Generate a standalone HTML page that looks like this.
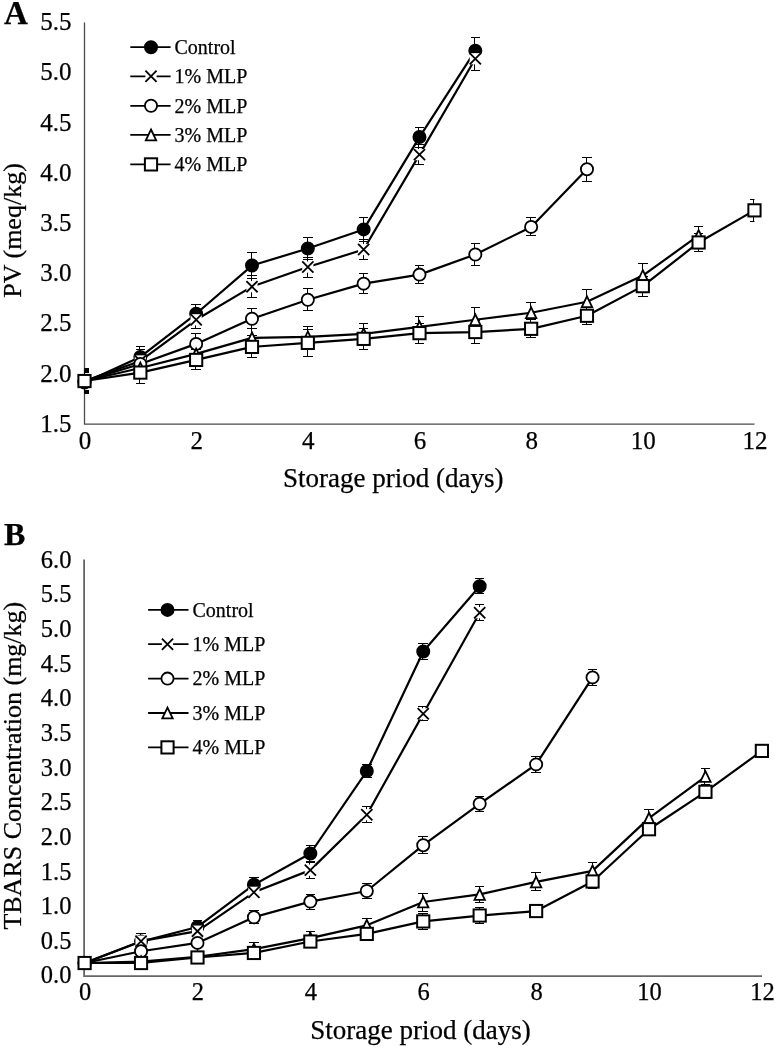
<!DOCTYPE html>
<html><head><meta charset="utf-8"><title>PV and TBARS charts</title>
<style>
html,body{margin:0;padding:0;background:#fff;}
body{width:774px;height:1046px;overflow:hidden;}
svg{display:block;font-family:"Liberation Serif", serif;will-change:transform;}
text{stroke:#000;stroke-width:0.25px;}
</style></head>
<body>
<svg width="774" height="1046" viewBox="0 0 774 1046">
<rect width="774" height="1046" fill="#fff"/>
<text x="71.6" y="431.85" font-size="25" text-anchor="end">1.5</text>
<text x="71.6" y="381.65" font-size="25" text-anchor="end">2.0</text>
<text x="71.6" y="331.45" font-size="25" text-anchor="end">2.5</text>
<text x="71.6" y="281.25" font-size="25" text-anchor="end">3.0</text>
<text x="71.6" y="231.05" font-size="25" text-anchor="end">3.5</text>
<text x="71.6" y="180.85" font-size="25" text-anchor="end">4.0</text>
<text x="71.6" y="130.65" font-size="25" text-anchor="end">4.5</text>
<text x="71.6" y="80.45" font-size="25" text-anchor="end">5.0</text>
<text x="71.6" y="30.25" font-size="25" text-anchor="end">5.5</text>
<text x="85" y="448.6" font-size="25" text-anchor="middle">0</text>
<text x="196.66" y="448.6" font-size="25" text-anchor="middle">2</text>
<text x="308.32" y="448.6" font-size="25" text-anchor="middle">4</text>
<text x="419.98" y="448.6" font-size="25" text-anchor="middle">6</text>
<text x="531.64" y="448.6" font-size="25" text-anchor="middle">8</text>
<text x="643.3" y="448.6" font-size="25" text-anchor="middle">10</text>
<text x="754.96" y="448.6" font-size="25" text-anchor="middle">12</text>
<path d="M84.5 22.6V424.2H754.5" fill="none" stroke="#4a4a4a" stroke-width="1.3"/>
<clipPath id="c845"><rect x="84.5" y="0" width="670" height="1046"/></clipPath>
<path clip-path="url(#c845)" d="M84.5 372.5V392.5M80 372.5H89M80 392.5H89M139.5 346.5V367.5M136 346.5H145M136 367.5H145M195.5 304.5V322.5M191 304.5H201M191 322.5H201M251.5 252.5V278.5M247 252.5H257M247 278.5H257M307.5 237.5V259.5M303 237.5H313M303 259.5H313M363.5 217.5V241.5M359 217.5H368M359 241.5H368M418.5 127.5V147.5M415 127.5H424M415 147.5H424M474.5 37.5V63.5M471 37.5H480M471 63.5H480M84.5 368.5V393.5M80 368.5H89M80 393.5H89M139.5 349.5V372.5M136 349.5H145M136 372.5H145M195.5 310.5V328.5M191 310.5H201M191 328.5H201M251.5 275.5V297.5M247 275.5H257M247 297.5H257M307.5 257.5V277.5M303 257.5H313M303 277.5H313M363.5 239.5V259.5M359 239.5H368M359 259.5H368M418.5 144.5V164.5M415 144.5H424M415 164.5H424M474.5 46.5V70.5M471 46.5H480M471 70.5H480M84.5 371.5V390.5M80 371.5H89M80 390.5H89M139.5 354.5V372.5M136 354.5H145M136 372.5H145M195.5 333.5V353.5M191 333.5H201M191 353.5H201M251.5 308.5V328.5M247 308.5H257M247 328.5H257M307.5 288.5V310.5M303 288.5H313M303 310.5H313M363.5 273.5V293.5M359 273.5H368M359 293.5H368M418.5 265.5V283.5M415 265.5H424M415 283.5H424M474.5 243.5V265.5M471 243.5H480M471 265.5H480M530.5 217.5V235.5M526 217.5H536M526 235.5H536M586.5 157.5V181.5M582 157.5H592M582 181.5H592M84.5 370.5V391.5M80 370.5H89M80 391.5H89M139.5 359.5V376.5M136 359.5H145M136 376.5H145M195.5 344.5V362.5M191 344.5H201M191 362.5H201M251.5 328.5V346.5M247 328.5H257M247 346.5H257M307.5 326.5V346.5M303 326.5H313M303 346.5H313M363.5 323.5V343.5M359 323.5H368M359 343.5H368M418.5 316.5V336.5M415 316.5H424M415 336.5H424M474.5 307.5V331.5M471 307.5H480M471 331.5H480M530.5 302.5V322.5M526 302.5H536M526 322.5H536M586.5 289.5V313.5M582 289.5H592M582 313.5H592M642.5 263.5V287.5M638 263.5H648M638 287.5H648M698.5 226.5V244.5M694 226.5H703M694 244.5H703M84.5 369.5V392.5M80 369.5H89M80 392.5H89M139.5 361.5V383.5M136 361.5H145M136 383.5H145M195.5 349.5V369.5M191 349.5H201M191 369.5H201M251.5 335.5V357.5M247 335.5H257M247 357.5H257M307.5 329.5V356.5M303 329.5H313M303 356.5H313M363.5 328.5V349.5M359 328.5H368M359 349.5H368M418.5 323.5V343.5M415 323.5H424M415 343.5H424M474.5 320.5V343.5M471 320.5H480M471 343.5H480M530.5 319.5V337.5M526 319.5H536M526 337.5H536M586.5 306.5V324.5M582 306.5H592M582 324.5H592M642.5 276.5V296.5M638 276.5H648M638 296.5H648M698.5 233.5V251.5M694 233.5H703M694 251.5H703M753.5 199.5V221.5M750 199.5H759M750 221.5H759" stroke="#000" stroke-width="1.0" fill="none"/>
<path d="M84.5 382.53L140.33 356.93L196.16 313.76L251.99 265.57L307.82 248.5L363.65 229.42L419.48 137.06L475.31 50.71" stroke="#000" stroke-width="2.2" fill="none" stroke-linejoin="round"/>
<circle cx="84.5" cy="382.53" r="6.1" fill="#000" stroke="#000" stroke-width="1.8"/>
<circle cx="140.33" cy="356.93" r="6.1" fill="#000" stroke="#000" stroke-width="1.8"/>
<circle cx="196.16" cy="313.76" r="6.1" fill="#000" stroke="#000" stroke-width="1.8"/>
<circle cx="251.99" cy="265.57" r="6.1" fill="#000" stroke="#000" stroke-width="1.8"/>
<circle cx="307.82" cy="248.5" r="6.1" fill="#000" stroke="#000" stroke-width="1.8"/>
<circle cx="363.65" cy="229.42" r="6.1" fill="#000" stroke="#000" stroke-width="1.8"/>
<circle cx="419.48" cy="137.06" r="6.1" fill="#000" stroke="#000" stroke-width="1.8"/>
<circle cx="475.31" cy="50.71" r="6.1" fill="#000" stroke="#000" stroke-width="1.8"/>
<path d="M84.5 381.03L140.33 360.95L196.16 319.78L251.99 286.65L307.82 267.07L363.65 249.5L419.48 154.63L475.31 58.74" stroke="#000" stroke-width="2.2" fill="none" stroke-linejoin="round"/>
<rect x="78.9" y="375.43" width="11.2" height="11.2" fill="#fff"/><path d="M78.9 375.43L90.1 386.63M90.1 375.43L78.9 386.63" stroke="#000" stroke-width="1.8" fill="none"/>
<rect x="134.73" y="355.35" width="11.2" height="11.2" fill="#fff"/><path d="M134.73 355.35L145.93 366.55M145.93 355.35L134.73 366.55" stroke="#000" stroke-width="1.8" fill="none"/>
<rect x="190.56" y="314.18" width="11.2" height="11.2" fill="#fff"/><path d="M190.56 314.18L201.76 325.38M201.76 314.18L190.56 325.38" stroke="#000" stroke-width="1.8" fill="none"/>
<rect x="246.39" y="281.05" width="11.2" height="11.2" fill="#fff"/><path d="M246.39 281.05L257.59 292.25M257.59 281.05L246.39 292.25" stroke="#000" stroke-width="1.8" fill="none"/>
<rect x="302.22" y="261.47" width="11.2" height="11.2" fill="#fff"/><path d="M302.22 261.47L313.42 272.67M313.42 261.47L302.22 272.67" stroke="#000" stroke-width="1.8" fill="none"/>
<rect x="358.05" y="243.9" width="11.2" height="11.2" fill="#fff"/><path d="M358.05 243.9L369.25 255.1M369.25 243.9L358.05 255.1" stroke="#000" stroke-width="1.8" fill="none"/>
<rect x="413.88" y="149.03" width="11.2" height="11.2" fill="#fff"/><path d="M413.88 149.03L425.08 160.23M425.08 149.03L413.88 160.23" stroke="#000" stroke-width="1.8" fill="none"/>
<rect x="469.71" y="53.14" width="11.2" height="11.2" fill="#fff"/><path d="M469.71 53.14L480.91 64.34M480.91 53.14L469.71 64.34" stroke="#000" stroke-width="1.8" fill="none"/>
<path d="M84.5 381.03L140.33 363.96L196.16 343.88L251.99 318.78L307.82 299.7L363.65 283.64L419.48 274.6L475.31 254.52L531.14 226.91L586.97 169.18" stroke="#000" stroke-width="2.2" fill="none" stroke-linejoin="round"/>
<circle cx="84.5" cy="381.03" r="6.1" fill="#fff" stroke="#000" stroke-width="1.8"/>
<circle cx="140.33" cy="363.96" r="6.1" fill="#fff" stroke="#000" stroke-width="1.8"/>
<circle cx="196.16" cy="343.88" r="6.1" fill="#fff" stroke="#000" stroke-width="1.8"/>
<circle cx="251.99" cy="318.78" r="6.1" fill="#fff" stroke="#000" stroke-width="1.8"/>
<circle cx="307.82" cy="299.7" r="6.1" fill="#fff" stroke="#000" stroke-width="1.8"/>
<circle cx="363.65" cy="283.64" r="6.1" fill="#fff" stroke="#000" stroke-width="1.8"/>
<circle cx="419.48" cy="274.6" r="6.1" fill="#fff" stroke="#000" stroke-width="1.8"/>
<circle cx="475.31" cy="254.52" r="6.1" fill="#fff" stroke="#000" stroke-width="1.8"/>
<circle cx="531.14" cy="226.91" r="6.1" fill="#fff" stroke="#000" stroke-width="1.8"/>
<circle cx="586.97" cy="169.18" r="6.1" fill="#fff" stroke="#000" stroke-width="1.8"/>
<path d="M84.5 381.03L140.33 367.98L196.16 353.92L251.99 337.86L307.82 336.85L363.65 333.84L419.48 326.81L475.31 319.78L531.14 312.76L586.97 301.71L642.8 275.61L698.63 235.45" stroke="#000" stroke-width="2.2" fill="none" stroke-linejoin="round"/>
<path d="M84.5 375.63L89.7 386.43L79.3 386.43Z" fill="#fff" stroke="#000" stroke-width="1.8" stroke-linejoin="miter" stroke-miterlimit="10"/>
<path d="M140.33 362.58L145.53 373.38L135.13 373.38Z" fill="#fff" stroke="#000" stroke-width="1.8" stroke-linejoin="miter" stroke-miterlimit="10"/>
<path d="M196.16 348.52L201.36 359.32L190.96 359.32Z" fill="#fff" stroke="#000" stroke-width="1.8" stroke-linejoin="miter" stroke-miterlimit="10"/>
<path d="M251.99 332.46L257.19 343.26L246.79 343.26Z" fill="#fff" stroke="#000" stroke-width="1.8" stroke-linejoin="miter" stroke-miterlimit="10"/>
<path d="M307.82 331.45L313.02 342.25L302.62 342.25Z" fill="#fff" stroke="#000" stroke-width="1.8" stroke-linejoin="miter" stroke-miterlimit="10"/>
<path d="M363.65 328.44L368.85 339.24L358.45 339.24Z" fill="#fff" stroke="#000" stroke-width="1.8" stroke-linejoin="miter" stroke-miterlimit="10"/>
<path d="M419.48 321.41L424.68 332.21L414.28 332.21Z" fill="#fff" stroke="#000" stroke-width="1.8" stroke-linejoin="miter" stroke-miterlimit="10"/>
<path d="M475.31 314.38L480.51 325.18L470.11 325.18Z" fill="#fff" stroke="#000" stroke-width="1.8" stroke-linejoin="miter" stroke-miterlimit="10"/>
<path d="M531.14 307.36L536.34 318.16L525.94 318.16Z" fill="#fff" stroke="#000" stroke-width="1.8" stroke-linejoin="miter" stroke-miterlimit="10"/>
<path d="M586.97 296.31L592.17 307.11L581.77 307.11Z" fill="#fff" stroke="#000" stroke-width="1.8" stroke-linejoin="miter" stroke-miterlimit="10"/>
<path d="M642.8 270.21L648 281.01L637.6 281.01Z" fill="#fff" stroke="#000" stroke-width="1.8" stroke-linejoin="miter" stroke-miterlimit="10"/>
<path d="M698.63 230.05L703.83 240.85L693.43 240.85Z" fill="#fff" stroke="#000" stroke-width="1.8" stroke-linejoin="miter" stroke-miterlimit="10"/>
<path d="M84.5 381.03L140.33 372.59L196.16 359.94L251.99 346.89L307.82 342.88L363.65 338.86L419.48 333.14L475.31 332.03L531.14 328.82L586.97 315.77L642.8 286.15L698.63 242.48L754.46 210.35" stroke="#000" stroke-width="2.2" fill="none" stroke-linejoin="round"/>
<rect x="78.4" y="374.93" width="12.2" height="12.2" fill="#fff" stroke="#000" stroke-width="2"/>
<rect x="134.23" y="366.49" width="12.2" height="12.2" fill="#fff" stroke="#000" stroke-width="2"/>
<rect x="190.06" y="353.84" width="12.2" height="12.2" fill="#fff" stroke="#000" stroke-width="2"/>
<rect x="245.89" y="340.79" width="12.2" height="12.2" fill="#fff" stroke="#000" stroke-width="2"/>
<rect x="301.72" y="336.78" width="12.2" height="12.2" fill="#fff" stroke="#000" stroke-width="2"/>
<rect x="357.55" y="332.76" width="12.2" height="12.2" fill="#fff" stroke="#000" stroke-width="2"/>
<rect x="413.38" y="327.04" width="12.2" height="12.2" fill="#fff" stroke="#000" stroke-width="2"/>
<rect x="469.21" y="325.93" width="12.2" height="12.2" fill="#fff" stroke="#000" stroke-width="2"/>
<rect x="525.04" y="322.72" width="12.2" height="12.2" fill="#fff" stroke="#000" stroke-width="2"/>
<rect x="580.87" y="309.67" width="12.2" height="12.2" fill="#fff" stroke="#000" stroke-width="2"/>
<rect x="636.7" y="280.05" width="12.2" height="12.2" fill="#fff" stroke="#000" stroke-width="2"/>
<rect x="692.53" y="236.38" width="12.2" height="12.2" fill="#fff" stroke="#000" stroke-width="2"/>
<rect x="748.36" y="204.25" width="12.2" height="12.2" fill="#fff" stroke="#000" stroke-width="2"/>
<path d="M130.3 47.2H170.6" stroke="#000" stroke-width="1.8"/>
<circle cx="151" cy="47.2" r="6.1" fill="#000" stroke="#000" stroke-width="1.8"/>
<text x="174.5" y="54" font-size="20">Control</text>
<path d="M130.3 76.3H170.6" stroke="#000" stroke-width="1.8"/>
<rect x="145.4" y="70.7" width="11.2" height="11.2" fill="#fff"/><path d="M145.4 70.7L156.6 81.9M156.6 70.7L145.4 81.9" stroke="#000" stroke-width="1.8" fill="none"/>
<text x="174.5" y="83.1" font-size="20">1% MLP</text>
<path d="M130.3 105.8H170.6" stroke="#000" stroke-width="1.8"/>
<circle cx="151" cy="105.8" r="6.1" fill="#fff" stroke="#000" stroke-width="1.8"/>
<text x="174.5" y="112.6" font-size="20">2% MLP</text>
<path d="M130.3 134.9H170.6" stroke="#000" stroke-width="1.8"/>
<path d="M151 129.5L156.2 140.3L145.8 140.3Z" fill="#fff" stroke="#000" stroke-width="1.8" stroke-linejoin="miter" stroke-miterlimit="10"/>
<text x="174.5" y="141.7" font-size="20">3% MLP</text>
<path d="M130.3 164.4H170.6" stroke="#000" stroke-width="1.8"/>
<rect x="144.9" y="158.3" width="12.2" height="12.2" fill="#fff" stroke="#000" stroke-width="2"/>
<text x="174.5" y="171.2" font-size="20">4% MLP</text>
<text x="4" y="23.7" font-size="33" font-weight="bold">A</text>
<text transform="translate(21.0 230.5) rotate(-90)" font-size="26" text-anchor="middle">PV (meq/kg)</text>
<text x="393.3" y="486.8" font-size="27" text-anchor="middle">Storage priod (days)</text>
<text x="71.4" y="983.48" font-size="24.5" text-anchor="end">0.0</text>
<text x="71.4" y="948.82" font-size="24.5" text-anchor="end">0.5</text>
<text x="71.4" y="914.16" font-size="24.5" text-anchor="end">1.0</text>
<text x="71.4" y="879.5" font-size="24.5" text-anchor="end">1.5</text>
<text x="71.4" y="844.84" font-size="24.5" text-anchor="end">2.0</text>
<text x="71.4" y="810.18" font-size="24.5" text-anchor="end">2.5</text>
<text x="71.4" y="775.52" font-size="24.5" text-anchor="end">3.0</text>
<text x="71.4" y="740.86" font-size="24.5" text-anchor="end">3.5</text>
<text x="71.4" y="706.2" font-size="24.5" text-anchor="end">4.0</text>
<text x="71.4" y="671.54" font-size="24.5" text-anchor="end">4.5</text>
<text x="71.4" y="636.88" font-size="24.5" text-anchor="end">5.0</text>
<text x="71.4" y="602.22" font-size="24.5" text-anchor="end">5.5</text>
<text x="71.4" y="567.56" font-size="24.5" text-anchor="end">6.0</text>
<text x="85.1" y="999.6" font-size="24.5" text-anchor="middle">0</text>
<text x="197.98" y="999.6" font-size="24.5" text-anchor="middle">2</text>
<text x="310.86" y="999.6" font-size="24.5" text-anchor="middle">4</text>
<text x="423.74" y="999.6" font-size="24.5" text-anchor="middle">6</text>
<text x="536.62" y="999.6" font-size="24.5" text-anchor="middle">8</text>
<text x="649.5" y="999.6" font-size="24.5" text-anchor="middle">10</text>
<text x="762.38" y="999.6" font-size="24.5" text-anchor="middle">12</text>
<path d="M84.1 559.6V976.1H762" fill="none" stroke="#666" stroke-width="1.8"/>
<clipPath id="c846"><rect x="84.1" y="0" width="677.9" height="1046"/></clipPath>
<path clip-path="url(#c846)" d="M84.5 957.5V968.5M80 957.5H89M80 968.5H89M140.5 933.5V949.5M136 933.5H146M136 949.5H146M196.5 920.5V933.5M193 920.5H202M193 933.5H202M253.5 877.5V892.5M249 877.5H259M249 892.5H259M309.5 845.5V861.5M306 845.5H315M306 861.5H315M366.5 764.5V777.5M362 764.5H372M362 777.5H372M422.5 643.5V659.5M418 643.5H428M418 659.5H428M479.5 578.5V593.5M475 578.5H484M475 593.5H484M84.5 957.5V968.5M80 957.5H89M80 968.5H89M140.5 933.5V948.5M136 933.5H146M136 948.5H146M196.5 926.5V935.5M193 926.5H202M193 935.5H202M253.5 886.5V897.5M249 886.5H259M249 897.5H259M309.5 862.5V878.5M306 862.5H315M306 878.5H315M366.5 806.5V822.5M362 806.5H372M362 822.5H372M422.5 706.5V720.5M418 706.5H428M418 720.5H428M479.5 604.5V620.5M475 604.5H484M475 620.5H484M84.5 957.5V968.5M80 957.5H89M80 968.5H89M140.5 947.5V955.5M136 947.5H146M136 955.5H146M196.5 938.5V947.5M193 938.5H202M193 947.5H202M253.5 910.5V923.5M249 910.5H259M249 923.5H259M309.5 894.5V909.5M306 894.5H315M306 909.5H315M366.5 883.5V898.5M362 883.5H372M362 898.5H372M422.5 836.5V853.5M418 836.5H428M418 853.5H428M479.5 796.5V811.5M475 796.5H484M475 811.5H484M535.5 756.5V772.5M531 756.5H541M531 772.5H541M592.5 669.5V685.5M588 669.5H597M588 685.5H597M84.5 957.5V968.5M80 957.5H89M80 968.5H89M140.5 957.5V965.5M136 957.5H146M136 965.5H146M196.5 952.5V960.5M193 952.5H202M193 960.5H202M253.5 942.5V956.5M249 942.5H259M249 956.5H259M309.5 931.5V944.5M306 931.5H315M306 944.5H315M366.5 918.5V932.5M362 918.5H372M362 932.5H372M422.5 893.5V911.5M418 893.5H428M418 911.5H428M479.5 886.5V902.5M475 886.5H484M475 902.5H484M535.5 872.5V890.5M531 872.5H541M531 890.5H541M592.5 862.5V879.5M588 862.5H597M588 879.5H597M648.5 809.5V827.5M644 809.5H654M644 827.5H654M704.5 768.5V784.5M701 768.5H710M701 784.5H710M84.5 957.5V968.5M80 957.5H89M80 968.5H89M140.5 958.5V967.5M136 958.5H146M136 967.5H146M196.5 954.5V960.5M193 954.5H202M193 960.5H202M253.5 948.5V957.5M249 948.5H259M249 957.5H259M309.5 936.5V946.5M306 936.5H315M306 946.5H315M366.5 929.5V938.5M362 929.5H372M362 938.5H372M422.5 913.5V929.5M418 913.5H428M418 929.5H428M479.5 907.5V923.5M475 907.5H484M475 923.5H484M535.5 906.5V915.5M531 906.5H541M531 915.5H541M592.5 874.5V888.5M588 874.5H597M588 888.5H597M648.5 822.5V835.5M644 822.5H654M644 835.5H654M704.5 784.5V798.5M701 784.5H710M701 798.5H710M761.5 744.5V757.5M757 744.5H767M757 757.5H767" stroke="#000" stroke-width="1.0" fill="none"/>
<path d="M84.6 963.02L141.04 941.53L197.48 926.98L253.92 884.69L310.36 853.5L366.8 771.01L423.24 651.43L479.68 586.2" stroke="#000" stroke-width="2.2" fill="none" stroke-linejoin="round"/>
<circle cx="84.6" cy="963.02" r="6.1" fill="#000" stroke="#000" stroke-width="1.8"/>
<circle cx="141.04" cy="941.53" r="6.1" fill="#000" stroke="#000" stroke-width="1.8"/>
<circle cx="197.48" cy="926.98" r="6.1" fill="#000" stroke="#000" stroke-width="1.8"/>
<circle cx="253.92" cy="884.69" r="6.1" fill="#000" stroke="#000" stroke-width="1.8"/>
<circle cx="310.36" cy="853.5" r="6.1" fill="#000" stroke="#000" stroke-width="1.8"/>
<circle cx="366.8" cy="771.01" r="6.1" fill="#000" stroke="#000" stroke-width="1.8"/>
<circle cx="423.24" cy="651.43" r="6.1" fill="#000" stroke="#000" stroke-width="1.8"/>
<circle cx="479.68" cy="586.2" r="6.1" fill="#000" stroke="#000" stroke-width="1.8"/>
<path d="M84.6 963.02L141.04 941.19L197.48 931.14L253.92 892.32L310.36 870.13L366.8 814.68L423.24 713.82L479.68 612.68" stroke="#000" stroke-width="2.2" fill="none" stroke-linejoin="round"/>
<rect x="79" y="957.42" width="11.2" height="11.2" fill="#fff"/><path d="M79 957.42L90.2 968.62M90.2 957.42L79 968.62" stroke="#000" stroke-width="1.8" fill="none"/>
<rect x="135.44" y="935.59" width="11.2" height="11.2" fill="#fff"/><path d="M135.44 935.59L146.64 946.79M146.64 935.59L135.44 946.79" stroke="#000" stroke-width="1.8" fill="none"/>
<rect x="191.88" y="925.54" width="11.2" height="11.2" fill="#fff"/><path d="M191.88 925.54L203.08 936.74M203.08 925.54L191.88 936.74" stroke="#000" stroke-width="1.8" fill="none"/>
<rect x="248.32" y="886.72" width="11.2" height="11.2" fill="#fff"/><path d="M248.32 886.72L259.52 897.92M259.52 886.72L248.32 897.92" stroke="#000" stroke-width="1.8" fill="none"/>
<rect x="304.76" y="864.53" width="11.2" height="11.2" fill="#fff"/><path d="M304.76 864.53L315.96 875.73M315.96 864.53L304.76 875.73" stroke="#000" stroke-width="1.8" fill="none"/>
<rect x="361.2" y="809.08" width="11.2" height="11.2" fill="#fff"/><path d="M361.2 809.08L372.4 820.28M372.4 809.08L361.2 820.28" stroke="#000" stroke-width="1.8" fill="none"/>
<rect x="417.64" y="708.22" width="11.2" height="11.2" fill="#fff"/><path d="M417.64 708.22L428.84 719.42M428.84 708.22L417.64 719.42" stroke="#000" stroke-width="1.8" fill="none"/>
<rect x="474.08" y="607.08" width="11.2" height="11.2" fill="#fff"/><path d="M474.08 607.08L485.28 618.28M485.28 607.08L474.08 618.28" stroke="#000" stroke-width="1.8" fill="none"/>
<path d="M84.6 963.02L141.04 951.24L197.48 942.92L253.92 917.27L310.36 901.6L366.8 891L423.24 845.18L479.68 803.79L536.12 764.42L592.56 677.42" stroke="#000" stroke-width="2.2" fill="none" stroke-linejoin="round"/>
<circle cx="84.6" cy="963.02" r="6.1" fill="#fff" stroke="#000" stroke-width="1.8"/>
<circle cx="141.04" cy="951.24" r="6.1" fill="#fff" stroke="#000" stroke-width="1.8"/>
<circle cx="197.48" cy="942.92" r="6.1" fill="#fff" stroke="#000" stroke-width="1.8"/>
<circle cx="253.92" cy="917.27" r="6.1" fill="#fff" stroke="#000" stroke-width="1.8"/>
<circle cx="310.36" cy="901.6" r="6.1" fill="#fff" stroke="#000" stroke-width="1.8"/>
<circle cx="366.8" cy="891" r="6.1" fill="#fff" stroke="#000" stroke-width="1.8"/>
<circle cx="423.24" cy="845.18" r="6.1" fill="#fff" stroke="#000" stroke-width="1.8"/>
<circle cx="479.68" cy="803.79" r="6.1" fill="#fff" stroke="#000" stroke-width="1.8"/>
<circle cx="536.12" cy="764.42" r="6.1" fill="#fff" stroke="#000" stroke-width="1.8"/>
<circle cx="592.56" cy="677.42" r="6.1" fill="#fff" stroke="#000" stroke-width="1.8"/>
<path d="M84.6 963.02L141.04 961.64L197.48 956.78L253.92 949.16L310.36 938.07L366.8 925.31L423.24 902.02L479.68 894.4L536.12 881.92L592.56 870.83L649 818.14L705.44 776.55" stroke="#000" stroke-width="2.2" fill="none" stroke-linejoin="round"/>
<path d="M84.6 957.62L89.8 968.42L79.4 968.42Z" fill="#fff" stroke="#000" stroke-width="1.8" stroke-linejoin="miter" stroke-miterlimit="10"/>
<path d="M141.04 956.24L146.24 967.04L135.84 967.04Z" fill="#fff" stroke="#000" stroke-width="1.8" stroke-linejoin="miter" stroke-miterlimit="10"/>
<path d="M197.48 951.38L202.68 962.18L192.28 962.18Z" fill="#fff" stroke="#000" stroke-width="1.8" stroke-linejoin="miter" stroke-miterlimit="10"/>
<path d="M253.92 943.76L259.12 954.56L248.72 954.56Z" fill="#fff" stroke="#000" stroke-width="1.8" stroke-linejoin="miter" stroke-miterlimit="10"/>
<path d="M310.36 932.67L315.56 943.47L305.16 943.47Z" fill="#fff" stroke="#000" stroke-width="1.8" stroke-linejoin="miter" stroke-miterlimit="10"/>
<path d="M366.8 919.91L372 930.71L361.6 930.71Z" fill="#fff" stroke="#000" stroke-width="1.8" stroke-linejoin="miter" stroke-miterlimit="10"/>
<path d="M423.24 896.62L428.44 907.42L418.04 907.42Z" fill="#fff" stroke="#000" stroke-width="1.8" stroke-linejoin="miter" stroke-miterlimit="10"/>
<path d="M479.68 889L484.88 899.8L474.48 899.8Z" fill="#fff" stroke="#000" stroke-width="1.8" stroke-linejoin="miter" stroke-miterlimit="10"/>
<path d="M536.12 876.52L541.32 887.32L530.92 887.32Z" fill="#fff" stroke="#000" stroke-width="1.8" stroke-linejoin="miter" stroke-miterlimit="10"/>
<path d="M592.56 865.43L597.76 876.23L587.36 876.23Z" fill="#fff" stroke="#000" stroke-width="1.8" stroke-linejoin="miter" stroke-miterlimit="10"/>
<path d="M649 812.74L654.2 823.54L643.8 823.54Z" fill="#fff" stroke="#000" stroke-width="1.8" stroke-linejoin="miter" stroke-miterlimit="10"/>
<path d="M705.44 771.15L710.64 781.95L700.24 781.95Z" fill="#fff" stroke="#000" stroke-width="1.8" stroke-linejoin="miter" stroke-miterlimit="10"/>
<path d="M84.6 963.02L141.04 963.02L197.48 957.48L253.92 952.97L310.36 941.53L366.8 933.91L423.24 921.43L479.68 915.54L536.12 911.03L592.56 881.5L649 829.23L705.44 791.8L761.88 750.9" stroke="#000" stroke-width="2.2" fill="none" stroke-linejoin="round"/>
<rect x="78.5" y="956.92" width="12.2" height="12.2" fill="#fff" stroke="#000" stroke-width="2"/>
<rect x="134.94" y="956.92" width="12.2" height="12.2" fill="#fff" stroke="#000" stroke-width="2"/>
<rect x="191.38" y="951.38" width="12.2" height="12.2" fill="#fff" stroke="#000" stroke-width="2"/>
<rect x="247.82" y="946.87" width="12.2" height="12.2" fill="#fff" stroke="#000" stroke-width="2"/>
<rect x="304.26" y="935.43" width="12.2" height="12.2" fill="#fff" stroke="#000" stroke-width="2"/>
<rect x="360.7" y="927.81" width="12.2" height="12.2" fill="#fff" stroke="#000" stroke-width="2"/>
<rect x="417.14" y="915.33" width="12.2" height="12.2" fill="#fff" stroke="#000" stroke-width="2"/>
<rect x="473.58" y="909.44" width="12.2" height="12.2" fill="#fff" stroke="#000" stroke-width="2"/>
<rect x="530.02" y="904.93" width="12.2" height="12.2" fill="#fff" stroke="#000" stroke-width="2"/>
<rect x="586.46" y="875.4" width="12.2" height="12.2" fill="#fff" stroke="#000" stroke-width="2"/>
<rect x="642.9" y="823.13" width="12.2" height="12.2" fill="#fff" stroke="#000" stroke-width="2"/>
<rect x="699.34" y="785.7" width="12.2" height="12.2" fill="#fff" stroke="#000" stroke-width="2"/>
<rect x="755.78" y="744.8" width="12.2" height="12.2" fill="#fff" stroke="#000" stroke-width="2"/>
<path d="M148.1 609.9H188.5" stroke="#000" stroke-width="1.8"/>
<circle cx="167.5" cy="609.9" r="6.1" fill="#000" stroke="#000" stroke-width="1.8"/>
<text x="192.5" y="616.7" font-size="20">Control</text>
<path d="M148.1 644.2H188.5" stroke="#000" stroke-width="1.8"/>
<rect x="161.9" y="638.6" width="11.2" height="11.2" fill="#fff"/><path d="M161.9 638.6L173.1 649.8M173.1 638.6L161.9 649.8" stroke="#000" stroke-width="1.8" fill="none"/>
<text x="192.5" y="651" font-size="20">1% MLP</text>
<path d="M148.1 678.6H188.5" stroke="#000" stroke-width="1.8"/>
<circle cx="167.5" cy="678.6" r="6.1" fill="#fff" stroke="#000" stroke-width="1.8"/>
<text x="192.5" y="685.4" font-size="20">2% MLP</text>
<path d="M148.1 713H188.5" stroke="#000" stroke-width="1.8"/>
<path d="M167.5 707.6L172.7 718.4L162.3 718.4Z" fill="#fff" stroke="#000" stroke-width="1.8" stroke-linejoin="miter" stroke-miterlimit="10"/>
<text x="192.5" y="719.8" font-size="20">3% MLP</text>
<path d="M148.1 747.4H188.5" stroke="#000" stroke-width="1.8"/>
<rect x="161.4" y="741.3" width="12.2" height="12.2" fill="#fff" stroke="#000" stroke-width="2"/>
<text x="192.5" y="754.2" font-size="20">4% MLP</text>
<text x="4" y="545.0" font-size="32" font-weight="bold">B</text>
<text transform="translate(20.8 765.7) rotate(-90)" font-size="26" text-anchor="middle">TBARS Concentration (mg/kg)</text>
<text x="420.5" y="1038.9" font-size="27" text-anchor="middle">Storage priod (days)</text>
</svg>
</body></html>
